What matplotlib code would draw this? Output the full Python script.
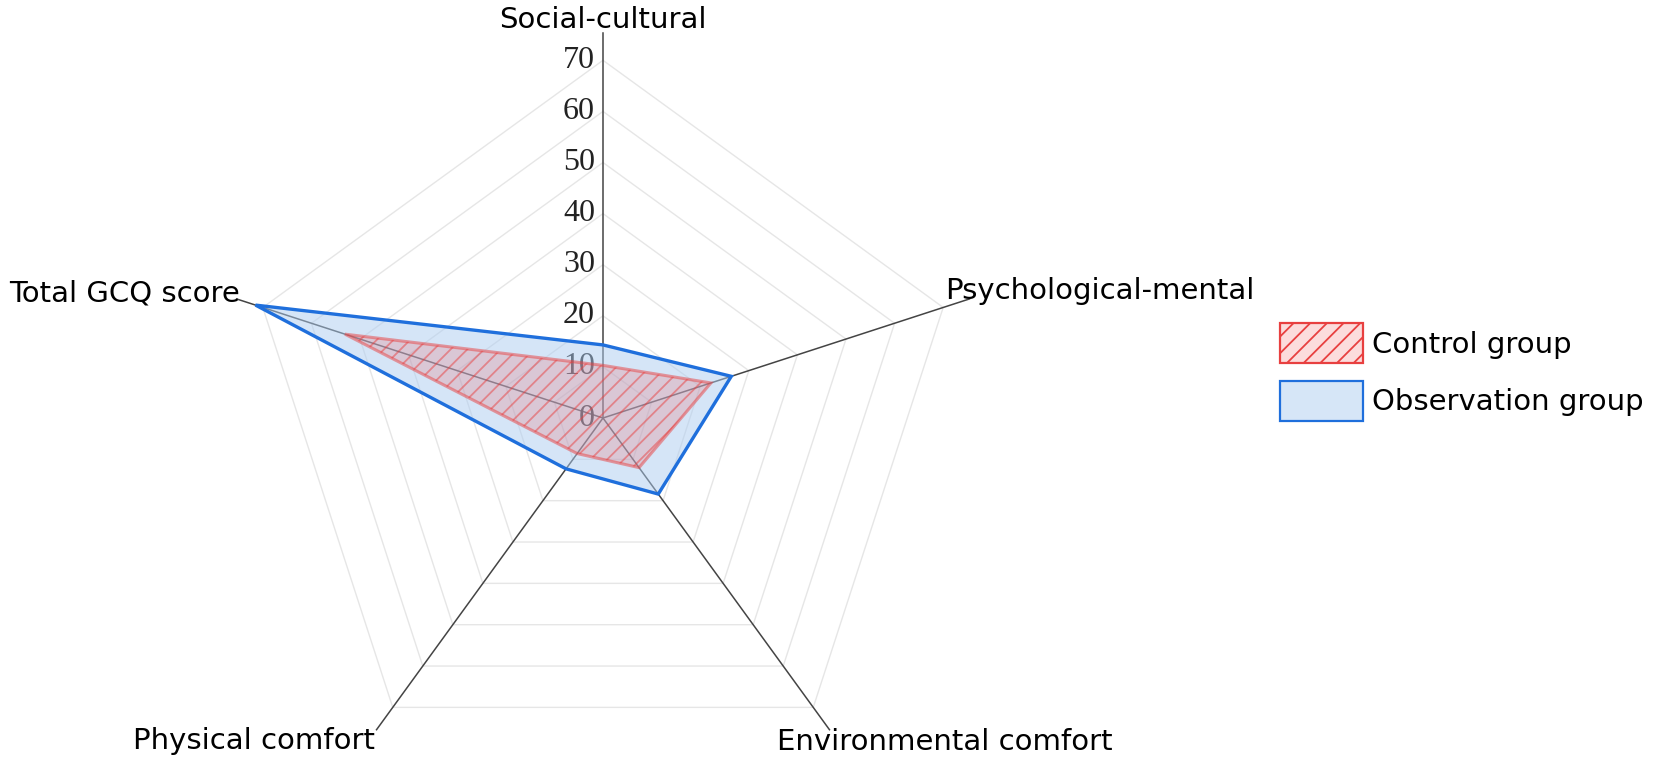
import numpy as np
import matplotlib
matplotlib.use("Agg")
import matplotlib.pyplot as plt
from matplotlib.patches import Polygon, Patch

# ---- data ----
categories = ["Social-cultural", "Psychological-mental", "Environmental comfort",
              "Physical comfort", "Total GCQ score"]
control_group = [10.3, 22.2, 12.0, 8.6, 53.1]
observation_group = [14.3, 26.4, 18.4, 12.3, 71.5]
tick_values = [0, 10, 20, 30, 40, 50, 60, 70]
series_names = ["Control group", "Observation group"]

# ---- layout ----
W, H = 1676, 761
DPI = 100
cx, cy = 603, 418          # centre in pixels (from top-left)
s = 5.11                    # pixels per data unit
raxis = 75.4

plt.rcParams['hatch.linewidth'] = 1.3

fig = plt.figure(figsize=(W / DPI, H / DPI), dpi=DPI)
ax = fig.add_axes([0, 0, 1, 1])
ax.set_xlim(-cx / s, (W - cx) / s)
ax.set_ylim(-(H - cy) / s, cy / s)
ax.axis('off')

n = len(categories)
theta = np.arange(n) * 2 * np.pi / n


def xy(r):
    r = np.asarray(r, dtype=float)
    return np.column_stack([r * np.sin(theta), r * np.cos(theta)])


# grid rings
for v in tick_values[1:]:
    ring = xy([v] * n)
    ax.add_patch(Polygon(ring, closed=True, fill=False, edgecolor='#e6e6e6',
                         linewidth=1.0, zorder=1))

# axis lines
ends = xy([raxis] * n)
for (ex, ey) in ends:
    ax.plot([0, ex], [0, ey], color='#444444', linewidth=1.1, zorder=2)

# tick labels
for v in tick_values:
    ax.annotate(str(v), xy=(0, v), xytext=(-8, 0), textcoords='offset pixels',
                ha='right', va='center', fontsize=23, family='Liberation Serif',
                color='#222222', zorder=2)

# series
obs_face = (0.678, 0.804, 0.945, 0.5)
obs_edge = '#1f6fdc'
ctl_face = (240 / 255, 80 / 255, 80 / 255, 0.2)
ctl_edge = (232 / 255, 64 / 255, 64 / 255, 0.5)

ax.add_patch(Polygon(xy(observation_group), closed=True, facecolor=obs_face,
                     edgecolor=obs_edge, linewidth=2.4, zorder=3,
                     joinstyle='miter'))
ax.add_patch(Polygon(xy(control_group), closed=True, facecolor=ctl_face,
                     edgecolor=ctl_edge, linewidth=2.2, hatch='//', zorder=4,
                     joinstyle='miter'))

# category labels
lab_kw = dict(textcoords='offset pixels', fontsize=21, family='DejaVu Sans',
              color='black')
offsets = [((0, 5), 'center', 'baseline'),
           ((-24, 0), 'left', 'baseline'),
           ((-52, 2), 'left', 'top'),
           ((-2, -19), 'right', 'baseline'),
           ((3, -3), 'right', 'baseline')]
for (ex, ey), name, (off, ha, va) in zip(ends, categories, offsets):
    ax.annotate(name, xy=(ex, ey), xytext=off, ha=ha, va=va, **lab_kw)

# legend
handles = [Patch(facecolor=ctl_face, edgecolor='#e84040', hatch='//', linewidth=1.6),
           Patch(facecolor=(0.84, 0.90, 0.97), edgecolor=obs_edge, linewidth=1.6)]
leg = fig.legend(handles, series_names, loc='upper left',
                 bbox_to_anchor=(1280 / W, 1 - 323 / H),
                 bbox_transform=fig.transFigure, frameon=False,
                 borderpad=0, borderaxespad=0, handlelength=2.86,
                 handleheight=1.75, handletextpad=0.3, labelspacing=0.6,
                 prop={'family': 'DejaVu Sans', 'size': 21})

fig.savefig('out.png', dpi=DPI)
